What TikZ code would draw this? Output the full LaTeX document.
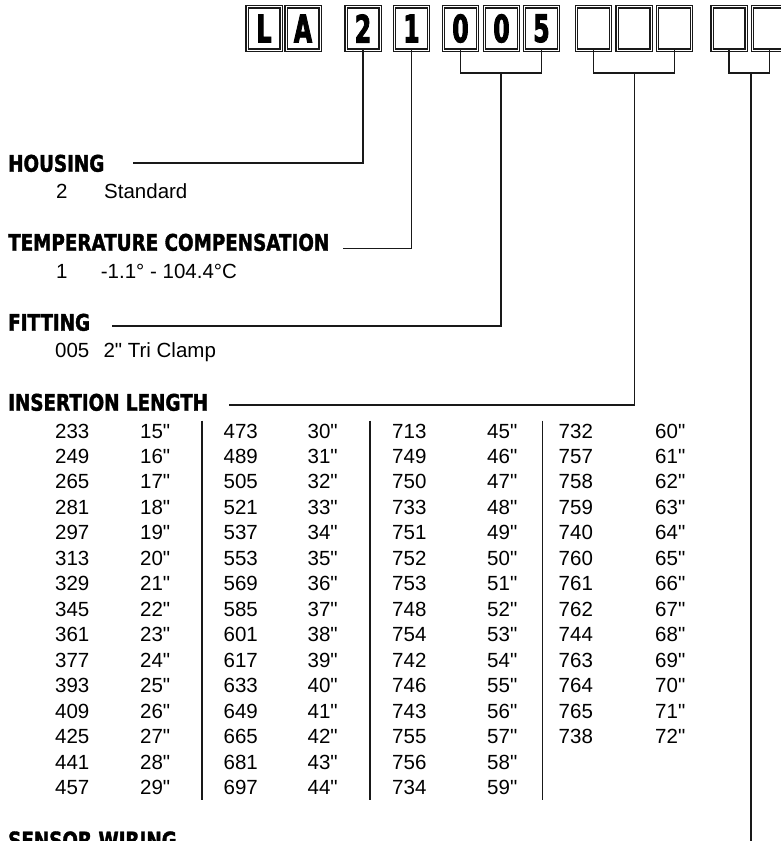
\documentclass[tikz,border=0pt]{standalone}
\usepackage{fontspec}
\setmainfont{Liberation Sans}[Ligatures=TeXOff]
\newfontfamily\headfont{DejaVu Sans}[BoldFont=* Bold, FakeStretch=0.8, FakeBold=1.6]
\newfontfamily\codefont{DejaVu Sans}[BoldFont=* Bold, FakeStretch=0.62, FakeBold=2.2]
\usepackage{tikz}
\usetikzlibrary{positioning}

\begin{document}
\begin{tikzpicture}[
    x=1bp, y=-1bp,
    digit/.style={rectangle, draw=black!90, line width=1.1bp, double=white, double distance=1bp, outer sep=0pt, inner sep=0pt, minimum width=34bp, minimum height=43bp, font=\codefont\bfseries\fontsize{38bp}{38bp}\selectfont},
    heading/.style={anchor=base west, inner sep=0pt, font=\headfont\bfseries\fontsize{22.9bp}{24bp}\selectfont},
    entry/.style={anchor=base west, inner sep=0pt, font=\fontsize{20.5bp}{24bp}\selectfont},
    wire/.style={draw=black!90, line width=1.6bp},
    rule/.style={draw=black!90, line width=1.8bp}
]
\useasboundingbox (0,0) rectangle (781,841);
\clip (0,0) rectangle (781,841);

% code boxes
\node[digit] (bL) at (264,28.5) {L};
\node[digit, right=5bp of bL] (bA) {A};
\node[digit, right=26bp of bA] (b2) {2};
\node[digit, right=14.5bp of b2] (b1) {1};
\node[digit, right=15bp of b1] (b0a) {0};
\node[digit, right=7bp of b0a] (b0b) {0};
\node[digit, right=6bp of b0b] (b5) {5};
\node[digit, right=18bp of b5] (e1) {};
\node[digit, right=6.5bp of e1] (e2) {};
\node[digit, right=6.5bp of e2] (e3) {};
\node[digit, right=20.5bp of e3] (e4) {};
\node[digit, right=6.5bp of e4] (e5) {};

% headings and options
\node[heading] (hhousing) at (8,171.7) {HOUSING};
\node[entry] (hcode) at (56,198) {2};
\node[entry] (hname) at (104,198) {Standard};

\node[heading] (htemp) at (8,250.7) {TEMPERATURE COMPENSATION};
\node[entry] (tcode) at (56,278) {1};
\node[entry] (trange) at (100.7,278) {-1.1° - 104.4°C};

\node[heading] (hfit) at (8,330.7) {FITTING};
\node[entry] (fcode) at (55,357.3) {005};
\node[entry] (fname) at (103.3,357.3) {2" Tri Clamp};

\node[heading] (hins) at (8,410.7) {INSERTION LENGTH};
\node[heading] (hwire) at (8,848.4) {SENSOR WIRING};

% insertion length table
\foreach \c/\s [count=\i from 0] in {233/15,249/16,265/17,281/18,297/19,313/20,329/21,345/22,361/23,377/24,393/25,409/26,425/27,441/28,457/29} {
  \node[entry] (ca\i) at (55,438+25.48*\i) {\c};
  \node[entry] (sa\i) at (140,438+25.48*\i) {\s"};
}
\foreach \c/\s [count=\i from 0] in {473/30,489/31,505/32,521/33,537/34,553/35,569/36,585/37,601/38,617/39,633/40,649/41,665/42,681/43,697/44} {
  \node[entry] (cb\i) at (223.5,438+25.48*\i) {\c};
  \node[entry] (sb\i) at (307.5,438+25.48*\i) {\s"};
}
\foreach \c/\s [count=\i from 0] in {713/45,749/46,750/47,733/48,751/49,752/50,753/51,748/52,754/53,742/54,746/55,743/56,755/57,756/58,734/59} {
  \node[entry] (cc\i) at (392,438+25.48*\i) {\c};
  \node[entry] (sc\i) at (487,438+25.48*\i) {\s"};
}
\foreach \c/\s [count=\i from 0] in {732/60,757/61,758/62,759/63,740/64,760/65,761/66,762/67,744/68,763/69,764/70,765/71,738/72} {
  \node[entry] (cd\i) at (558.5,438+25.48*\i) {\c};
  \node[entry] (sd\i) at (655,438+25.48*\i) {\s"};
}
\foreach \x in {202,370,542.5}
  \draw[rule] (\x,420.7) -- (\x,800);

% connectors
\coordinate (housl) at (133,162.7);
\coordinate (templ) at (343,248.3);
\coordinate (fitl) at (112,325.7);
\coordinate (insl) at (229,405);
\coordinate (fitj) at (501,73);
\coordinate (insj) at (634.5,73);
\coordinate (wirej) at (751,73);
\coordinate (wireend) at (751,841);

\draw[wire] (housl) -| (b2.south);
\draw[wire] (templ) -| (b1.south);
\draw[wire] (b0a.south) |- (fitj) -| (b5.south);
\draw[wire] (fitl) -| (fitj);
\draw[wire] (e1.south) |- (insj) -| (e3.south);
\draw[wire] (insl) -| (insj);
\draw[wire] (e4.south) |- (wirej) -| (e5.south);
\draw[wire] (wirej) -- (wireend);
\end{tikzpicture}
\end{document}
